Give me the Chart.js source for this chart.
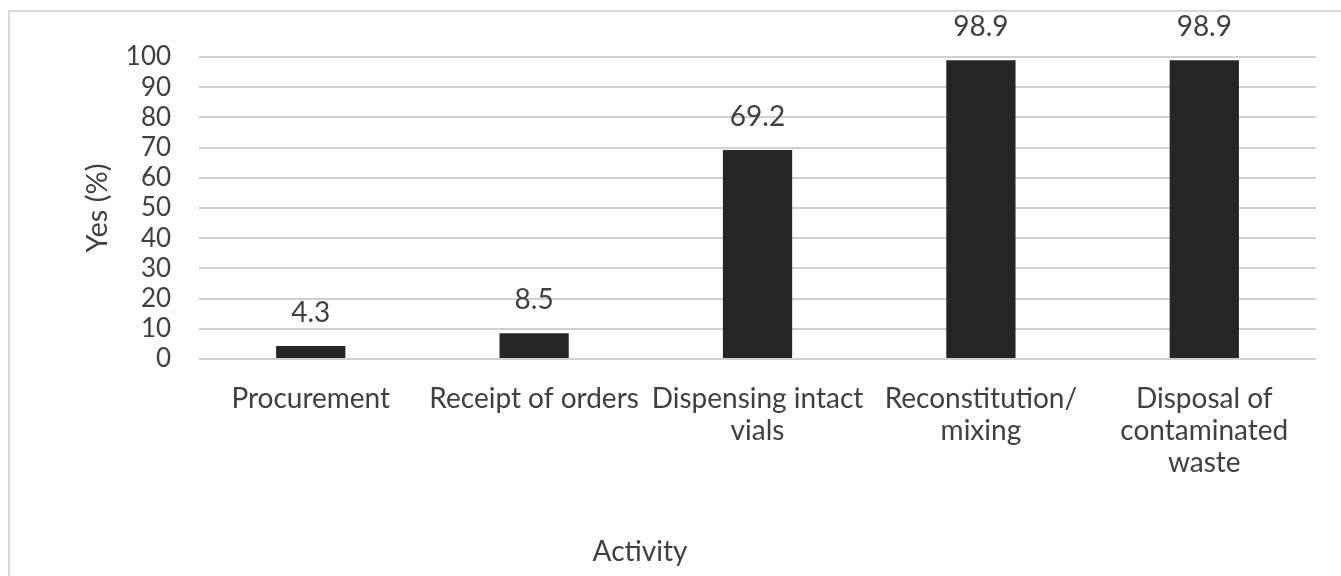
<!DOCTYPE html>
<html lang="en">
<head>
  <meta charset="UTF-8" />
  <title>Activity chart</title>
  <script src="https://cdn.jsdelivr.net/npm/chart.js"></script>
  <style>
    html, body { margin: 0; padding: 0; background: #fff; overflow: hidden; }
    .frame {
      position: absolute; left: 8px; top: 10px;
      width: 1400px; height: 700px;
      border: 2px solid #d9d9d9;
    }
    .wrap { position: absolute; left: 0; top: 0; width: 1341px; height: 576px; }
  </style>
</head>
<body>
  <div class="frame"></div>
  <div class="wrap"><canvas id="chart"></canvas></div>

  <script>
    const categories = [
      "Procurement",
      "Receipt of orders",
      ["Dispensing intact", "vials"],
      ["Reconstitution/", "mixing"],
      ["Disposal of", "contaminated", "waste"]
    ];
    const yesPercent = [4.3, 8.5, 69.2, 98.9, 98.9];
    const yTicks = [0, 10, 20, 30, 40, 50, 60, 70, 80, 90, 100];
    const xTitle = "Activity";

    const FONT = "Lato, 'Open Sans', sans-serif";
    const TEXT = "#404040";

    // value above each bar + the x axis title (left of the plot centre, like the original)
    const extraText = {
      id: "extraText",
      afterDatasetsDraw(chart) {
        const ctx = chart.ctx;
        const meta = chart.getDatasetMeta(0);
        const yScale = chart.scales.y;
        ctx.save();
        ctx.font = "28px " + FONT;
        ctx.fillStyle = TEXT;
        ctx.textAlign = "center";
        ctx.textBaseline = "middle";
        meta.data.forEach((bar, i) => {
          const top = yScale.getPixelForValue(yesPercent[i]);
          ctx.fillText(yesPercent[i].toFixed(1), bar.x, top - 33);
        });
        ctx.fillText(xTitle, 640, 552);
        ctx.restore();
      }
    };

    new Chart(document.getElementById("chart"), {
      type: "bar",
      data: {
        labels: categories,
        datasets: [{
          label: "Yes (%)",
          data: yesPercent,
          backgroundColor: "#262626",
          borderWidth: 0,
          categoryPercentage: 1,
          barPercentage: 0.31
        }]
      },
      options: {
        responsive: true,
        maintainAspectRatio: false,
        animation: false,
        layout: { padding: { left: 80, right: 25, top: 57, bottom: 73 } },
        plugins: {
          legend: { display: false },
          tooltip: { enabled: false }
        },
        scales: {
          x: {
            grid: { display: false, drawTicks: false },
            border: { display: false },
            ticks: {
              autoSkip: false,
              maxRotation: 0,
              padding: 24,
              color: TEXT,
              font: { family: FONT, size: 28, lineHeight: 1.143 }
            }
          },
          y: {
            min: 0,
            max: 100,
            afterBuildTicks: axis => { axis.ticks = yTicks.map(v => ({ value: v })); },
            grid: { color: "#d0d0d0", lineWidth: 2, drawTicks: false },
            border: { display: false },
            ticks: {
              autoSkip: false,
              padding: 28,
              color: TEXT,
              font: { family: FONT, size: 26 }
            },
            title: {
              display: true,
              text: "Yes (%)",
              color: TEXT,
              font: { family: FONT, size: 29 },
              padding: { top: 0, bottom: -17 }
            }
          }
        }
      },
      plugins: [extraText]
    });
  </script>
</body>
</html>
